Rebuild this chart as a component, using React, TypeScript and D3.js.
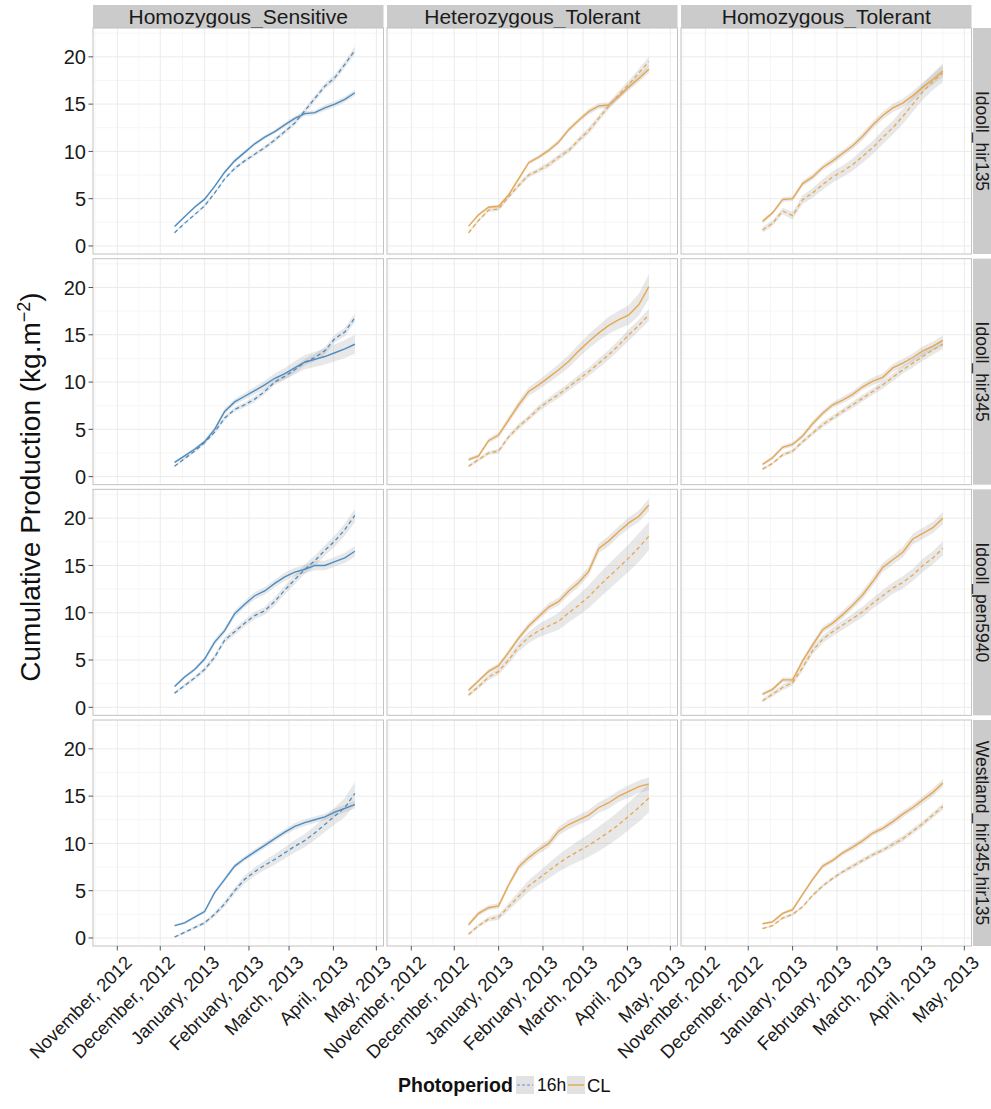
import * as d3 from 'd3';

const WIDTH = 991;
const HEIGHT = 1109;

// harvest dates (weekly) shared by every panel
const harvestDates = [
  '2012-12-11', '2012-12-18', '2012-12-25', '2013-01-01', '2013-01-08', '2013-01-15',
  '2013-01-22', '2013-01-29', '2013-02-05', '2013-02-12', '2013-02-19', '2013-02-26',
  '2013-03-05', '2013-03-12', '2013-03-19', '2013-03-26', '2013-04-02', '2013-04-09', '2013-04-16',
];

const genotypes = ['Homozygous_Sensitive', 'Heterozygous_Tolerant', 'Homozygous_Tolerant'];
const lines = ['Idooll_hir135', 'Idooll_hir345', 'Idooll_pen5940', 'Westland_hir345,hir135'];
const monthTicks = ['2012-11-01', '2012-12-01', '2013-01-01', '2013-02-01', '2013-03-01', '2013-04-01', '2013-05-01'];
const yTicks = [0, 5, 10, 15, 20];
const yMinor = [2.5, 7.5, 12.5, 17.5, 22.5];

// Idooll_hir135
const hir135_HS_CL = [2.05, 3.1, 4.1, 4.95, 6.3, 7.8, 9.0, 9.9, 10.8, 11.5, 12.1, 12.8, 13.5, 14.0, 14.1, 14.6, 15.0, 15.5, 16.2];
const hir135_HS_16h = [1.4, 2.4, 3.3, 4.25, 5.6, 7.1, 8.2, 9.0, 9.7, 10.4, 11.2, 12.1, 13.0, 14.3, 15.6, 16.9, 17.8, 19.2, 20.7];
const hir135_HT_CL = [2.1, 3.3, 4.1, 4.2, 5.4, 7.1, 8.8, 9.4, 10.1, 11.0, 12.3, 13.3, 14.2, 14.8, 14.9, 15.8, 16.8, 17.7, 18.7];
const hir135_HT_16h = [1.4, 2.7, 3.8, 3.9, 5.2, 6.4, 7.5, 8.0, 8.6, 9.4, 10.1, 11.2, 12.2, 13.5, 14.8, 16.0, 17.1, 18.3, 19.5];
const hir135_HoT_CL = [2.6, 3.5, 4.9, 5.0, 6.6, 7.3, 8.3, 9.0, 9.8, 10.6, 11.6, 12.8, 13.8, 14.6, 15.1, 15.9, 16.8, 17.6, 18.5];
const hir135_HoT_16h = [1.7, 2.4, 3.7, 3.2, 4.9, 5.6, 6.5, 7.3, 7.9, 8.6, 9.5, 10.4, 11.5, 12.5, 13.7, 15.0, 16.3, 17.4, 18.3];
// Idooll_hir345
const hir345_HS_CL = [1.5, 2.2, 2.9, 3.7, 5.0, 6.9, 7.9, 8.5, 9.1, 9.7, 10.4, 10.9, 11.5, 12.1, 12.4, 12.7, 13.1, 13.5, 14.0];
const hir345_HS_16h = [1.1, 1.9, 2.7, 3.6, 4.7, 6.2, 7.1, 7.6, 8.2, 9.0, 10.0, 10.6, 11.3, 12.1, 12.6, 13.3, 14.6, 15.3, 16.8];
const hir345_HT_CL = [1.8, 2.2, 3.8, 4.4, 6.0, 7.6, 9.0, 9.7, 10.5, 11.3, 12.2, 13.3, 14.3, 15.2, 16.0, 16.6, 17.1, 18.2, 20.1];
const hir345_HT_16h = [1.1, 1.8, 2.5, 2.7, 4.2, 5.3, 6.2, 7.2, 8.0, 8.7, 9.5, 10.3, 11.1, 12.0, 12.9, 13.9, 15.0, 16.0, 17.1];
const hir345_HoT_CL = [1.3, 2.0, 3.1, 3.4, 4.3, 5.6, 6.7, 7.6, 8.1, 8.7, 9.5, 10.1, 10.5, 11.5, 12.0, 12.6, 13.3, 13.8, 14.4];
const hir345_HoT_16h = [0.8, 1.4, 2.3, 2.7, 3.7, 4.6, 5.5, 6.2, 6.9, 7.6, 8.3, 9.0, 9.7, 10.5, 11.3, 12.0, 12.7, 13.4, 14.0];
// Idooll_pen5940
const pen_HS_CL = [2.2, 3.2, 4.0, 5.1, 6.9, 8.1, 9.9, 10.9, 11.8, 12.3, 13.1, 13.8, 14.3, 14.6, 15.0, 15.0, 15.4, 15.8, 16.5];
const pen_HS_16h = [1.5, 2.3, 3.1, 4.0, 5.3, 7.1, 8.0, 8.9, 9.7, 10.2, 11.2, 12.4, 13.5, 14.6, 15.5, 16.6, 17.6, 18.8, 20.3];
const pen_HT_CL = [1.8, 2.8, 3.8, 4.4, 5.8, 7.3, 8.6, 9.6, 10.6, 11.2, 12.3, 13.2, 14.4, 16.8, 17.6, 18.6, 19.5, 20.2, 21.4];
const pen_HT_16h = [1.3, 2.2, 3.2, 3.8, 5.0, 6.4, 7.4, 8.1, 8.6, 9.1, 10.0, 10.8, 11.7, 12.8, 13.8, 14.8, 15.8, 16.9, 18.1];
const pen_HoT_CL = [1.4, 1.9, 2.9, 2.9, 4.9, 6.6, 8.2, 8.9, 9.8, 10.8, 11.9, 13.3, 14.8, 15.6, 16.4, 17.8, 18.4, 19.0, 20.0];
const pen_HoT_16h = [0.7, 1.4, 2.1, 2.6, 4.2, 6.0, 7.2, 8.0, 8.7, 9.4, 10.1, 11.0, 11.8, 12.6, 13.2, 14.0, 15.0, 15.8, 16.8];
// Westland_hir345,hir135
const west_HS_CL = [1.3, 1.6, 2.2, 2.8, 4.8, 6.2, 7.6, 8.4, 9.1, 9.8, 10.5, 11.2, 11.8, 12.2, 12.5, 12.8, 13.3, 13.7, 14.1];
const west_HS_16h = [0.1, 0.6, 1.1, 1.6, 2.5, 3.6, 5.0, 6.2, 7.0, 7.7, 8.3, 9.0, 9.7, 10.3, 11.1, 12.0, 12.9, 13.8, 15.3];
const west_HT_CL = [1.4, 2.6, 3.2, 3.4, 5.6, 7.5, 8.5, 9.3, 10.0, 11.3, 12.0, 12.5, 13.0, 13.8, 14.3, 15.0, 15.5, 16.0, 16.3];
const west_HT_16h = [0.4, 1.3, 2.0, 2.2, 3.3, 4.4, 5.5, 6.3, 7.1, 7.9, 8.6, 9.2, 9.8, 10.5, 11.2, 12.0, 12.9, 13.8, 14.8];
const west_HoT_CL = [1.5, 1.7, 2.6, 3.0, 4.6, 6.2, 7.6, 8.2, 9.0, 9.6, 10.3, 11.1, 11.6, 12.3, 13.1, 13.8, 14.6, 15.4, 16.4];
const west_HoT_16h = [1.0, 1.3, 2.1, 2.5, 3.3, 4.5, 5.5, 6.3, 7.0, 7.6, 8.2, 8.8, 9.3, 9.9, 10.5, 11.3, 12.1, 13.0, 13.9];

// standard errors (ribbon half widths)
const hir135_HS_CL_se = [0.1, 0.1, 0.15, 0.15, 0.15, 0.2, 0.2, 0.2, 0.2, 0.2, 0.2, 0.25, 0.25, 0.25, 0.25, 0.3, 0.3, 0.3, 0.3];
const hir135_HS_16h_se = [0.1, 0.1, 0.1, 0.15, 0.15, 0.15, 0.2, 0.2, 0.2, 0.2, 0.25, 0.25, 0.25, 0.3, 0.3, 0.3, 0.35, 0.35, 0.4];
const hir135_HT_CL_se = [0.1, 0.15, 0.15, 0.15, 0.2, 0.2, 0.2, 0.2, 0.25, 0.25, 0.25, 0.25, 0.3, 0.3, 0.3, 0.3, 0.35, 0.35, 0.4];
const hir135_HT_16h_se = [0.15, 0.15, 0.2, 0.2, 0.2, 0.25, 0.25, 0.25, 0.3, 0.3, 0.3, 0.3, 0.35, 0.35, 0.35, 0.4, 0.4, 0.45, 0.5];
const hir135_HoT_CL_se = [0.2, 0.2, 0.25, 0.25, 0.3, 0.3, 0.3, 0.35, 0.35, 0.35, 0.4, 0.4, 0.4, 0.45, 0.45, 0.5, 0.5, 0.55, 0.6];
const hir135_HoT_16h_se = [0.3, 0.3, 0.35, 0.4, 0.45, 0.5, 0.55, 0.6, 0.6, 0.65, 0.7, 0.7, 0.75, 0.75, 0.8, 0.8, 0.85, 0.9, 1.0];
const hir345_HS_CL_se = [0.15, 0.15, 0.2, 0.2, 0.25, 0.3, 0.3, 0.35, 0.4, 0.45, 0.5, 0.6, 0.7, 0.75, 0.8, 0.85, 0.9, 0.95, 1.0];
const hir345_HS_16h_se = [0.1, 0.15, 0.15, 0.2, 0.2, 0.25, 0.25, 0.25, 0.3, 0.3, 0.3, 0.35, 0.35, 0.35, 0.4, 0.4, 0.4, 0.45, 0.45];
const hir345_HT_CL_se = [0.2, 0.2, 0.25, 0.3, 0.35, 0.4, 0.45, 0.5, 0.55, 0.6, 0.65, 0.7, 0.75, 0.8, 0.9, 0.95, 1.05, 1.15, 1.3];
const hir345_HT_16h_se = [0.15, 0.2, 0.2, 0.25, 0.25, 0.3, 0.3, 0.35, 0.35, 0.4, 0.4, 0.45, 0.45, 0.5, 0.5, 0.55, 0.6, 0.6, 0.65];
const hir345_HoT_CL_se = [0.15, 0.2, 0.2, 0.25, 0.25, 0.3, 0.3, 0.3, 0.35, 0.35, 0.35, 0.4, 0.4, 0.4, 0.45, 0.45, 0.5, 0.5, 0.55];
const hir345_HoT_16h_se = [0.15, 0.15, 0.2, 0.2, 0.25, 0.25, 0.3, 0.3, 0.3, 0.35, 0.35, 0.35, 0.4, 0.4, 0.4, 0.45, 0.45, 0.5, 0.5];
const pen_HS_CL_se = [0.15, 0.2, 0.2, 0.25, 0.3, 0.3, 0.35, 0.35, 0.4, 0.4, 0.4, 0.45, 0.45, 0.45, 0.5, 0.5, 0.5, 0.55, 0.55];
const pen_HS_16h_se = [0.15, 0.2, 0.2, 0.25, 0.3, 0.3, 0.35, 0.35, 0.4, 0.4, 0.45, 0.45, 0.5, 0.5, 0.55, 0.55, 0.6, 0.65, 0.7];
const pen_HT_CL_se = [0.2, 0.2, 0.25, 0.25, 0.3, 0.3, 0.35, 0.35, 0.4, 0.4, 0.45, 0.45, 0.5, 0.5, 0.55, 0.55, 0.6, 0.6, 0.65];
const pen_HT_16h_se = [0.2, 0.25, 0.3, 0.35, 0.4, 0.5, 0.6, 0.7, 0.8, 0.9, 1.0, 1.1, 1.2, 1.3, 1.35, 1.4, 1.45, 1.5, 1.5];
const pen_HoT_CL_se = [0.2, 0.2, 0.25, 0.25, 0.3, 0.3, 0.35, 0.35, 0.4, 0.4, 0.45, 0.45, 0.5, 0.5, 0.55, 0.55, 0.6, 0.6, 0.65];
const pen_HoT_16h_se = [0.2, 0.25, 0.3, 0.3, 0.35, 0.4, 0.4, 0.45, 0.5, 0.5, 0.55, 0.55, 0.6, 0.6, 0.65, 0.65, 0.7, 0.7, 0.75];
const west_HS_CL_se = [0.1, 0.15, 0.15, 0.2, 0.2, 0.25, 0.25, 0.25, 0.3, 0.3, 0.3, 0.3, 0.35, 0.35, 0.35, 0.35, 0.4, 0.4, 0.4];
const west_HS_16h_se = [0.1, 0.15, 0.15, 0.2, 0.25, 0.3, 0.35, 0.4, 0.45, 0.5, 0.55, 0.6, 0.65, 0.7, 0.75, 0.8, 0.9, 1.0, 1.2];
const west_HT_CL_se = [0.2, 0.25, 0.25, 0.3, 0.3, 0.35, 0.4, 0.4, 0.45, 0.45, 0.5, 0.5, 0.55, 0.55, 0.6, 0.6, 0.65, 0.65, 0.7];
const west_HT_16h_se = [0.15, 0.2, 0.25, 0.3, 0.4, 0.5, 0.6, 0.7, 0.8, 0.9, 1.0, 1.1, 1.2, 1.3, 1.35, 1.4, 1.45, 1.5, 1.5];
const west_HoT_CL_se = [0.1, 0.15, 0.15, 0.2, 0.2, 0.2, 0.25, 0.25, 0.25, 0.3, 0.3, 0.3, 0.3, 0.35, 0.35, 0.35, 0.4, 0.4, 0.4];
const west_HoT_16h_se = [0.1, 0.1, 0.15, 0.15, 0.15, 0.2, 0.2, 0.2, 0.2, 0.25, 0.25, 0.25, 0.25, 0.3, 0.3, 0.3, 0.3, 0.3, 0.35];

// rows = lines, cols = genotypes
const panelSeries = [
  [[hir135_HS_CL, hir135_HS_CL_se, hir135_HS_16h, hir135_HS_16h_se],
   [hir135_HT_CL, hir135_HT_CL_se, hir135_HT_16h, hir135_HT_16h_se],
   [hir135_HoT_CL, hir135_HoT_CL_se, hir135_HoT_16h, hir135_HoT_16h_se]],
  [[hir345_HS_CL, hir345_HS_CL_se, hir345_HS_16h, hir345_HS_16h_se],
   [hir345_HT_CL, hir345_HT_CL_se, hir345_HT_16h, hir345_HT_16h_se],
   [hir345_HoT_CL, hir345_HoT_CL_se, hir345_HoT_16h, hir345_HoT_16h_se]],
  [[pen_HS_CL, pen_HS_CL_se, pen_HS_16h, pen_HS_16h_se],
   [pen_HT_CL, pen_HT_CL_se, pen_HT_16h, pen_HT_16h_se],
   [pen_HoT_CL, pen_HoT_CL_se, pen_HoT_16h, pen_HoT_16h_se]],
  [[west_HS_CL, west_HS_CL_se, west_HS_16h, west_HS_16h_se],
   [west_HT_CL, west_HT_CL_se, west_HT_16h, west_HT_16h_se],
   [west_HoT_CL, west_HoT_CL_se, west_HoT_16h, west_HoT_16h_se]],
];

const genotypeColor = ['#4a8dc5', '#e8a74e', '#e8a74e'];

const FONT = '"Liberation Sans", Arial, Helvetica, sans-serif';
const PANEL_LEFT = 93;
const PANEL_W = 290.5;
const COL_STEP = 294;
const PANEL_TOP = 28;
const PANEL_H = 226;
const ROW_STEP = 230.67;
const STRIP_H = 23;

const parse = d3.timeParse('%Y-%m-%d');
const fmt = d3.timeFormat('%B, %Y');

export default function App() {
  const dates = harvestDates.map(d => parse(d) as Date);
  const ticks = monthTicks.map(d => parse(d) as Date);
  const x = d3.scaleTime()
    .domain([parse('2012-10-15') as Date, parse('2013-05-06') as Date])
    .range([0, PANEL_W]);
  const y = d3.scaleLinear().domain([-0.85, 23.05]).range([PANEL_H, 0]);

  // minor breaks halfway between month ticks
  const allMonths = [parse('2012-10-01') as Date, ...ticks];
  const xMinor = d3.pairs(allMonths)
    .map(([a, b]) => new Date((a.getTime() + b.getTime()) / 2))
    .filter(d => x(d) > 0 && x(d) < PANEL_W);

  const line = d3.line<number>().x((_, i) => x(dates[i])).y(v => y(v));
  const area = (vals: number[], se: number[]) =>
    d3.area<number>()
      .x((_, i) => x(dates[i]))
      .y0((v, i) => y(v - se[i]))
      .y1((v, i) => y(v + se[i]))(vals) as string;

  const bottom = PANEL_TOP + 3 * ROW_STEP + PANEL_H;
  const stripX = PANEL_LEFT + 2 * COL_STEP + PANEL_W + 1.5;

  return (
    <div style={{ position: 'absolute', left: 0, top: 0 }}>
      <svg width={WIDTH} height={HEIGHT} style={{ display: 'block', background: '#fff', fontFamily: FONT }}>
        {/* top strips */}
        {genotypes.map((g, c) => (
          <g key={g} transform={`translate(${PANEL_LEFT + c * COL_STEP},${PANEL_TOP - STRIP_H})`}>
            <rect width={PANEL_W} height={STRIP_H} fill="#cbcbcb" />
            <text x={PANEL_W / 2} y={STRIP_H / 2} dy="0.36em" textAnchor="middle" fontSize={21} fill="#1a1a1a">{g}</text>
          </g>
        ))}
        {/* panels */}
        {panelSeries.map((row, r) => row.map((cell, c) => {
          const [cl, clSe, h16, h16Se] = cell;
          const col = genotypeColor[c];
          return (
            <g key={`${r}-${c}`} transform={`translate(${PANEL_LEFT + c * COL_STEP},${PANEL_TOP + r * ROW_STEP})`}>
              <rect width={PANEL_W} height={PANEL_H} fill="#fff" />
              {xMinor.map((d, i) => (
                <line key={`xm${i}`} x1={x(d)} x2={x(d)} y1={0} y2={PANEL_H} stroke="#f4f4f4" strokeWidth={0.8} />
              ))}
              {yMinor.map(v => (
                <line key={`ym${v}`} x1={0} x2={PANEL_W} y1={y(v)} y2={y(v)} stroke="#f4f4f4" strokeWidth={0.8} />
              ))}
              {ticks.map((d, i) => (
                <line key={`xg${i}`} x1={x(d)} x2={x(d)} y1={0} y2={PANEL_H} stroke="#ebebeb" strokeWidth={1} />
              ))}
              {yTicks.map(v => (
                <line key={`yg${v}`} x1={0} x2={PANEL_W} y1={y(v)} y2={y(v)} stroke="#ebebeb" strokeWidth={1} />
              ))}
              <path d={area(cl, clSe)} fill="#a0a0a0" fillOpacity={0.24} />
              <path d={area(h16, h16Se)} fill="#a0a0a0" fillOpacity={0.24} />
              <path d={line(h16) as string} fill="none" stroke={col} strokeWidth={1.3} strokeDasharray="4,3" />
              <path d={line(cl) as string} fill="none" stroke={col} strokeWidth={1.4} />
              <rect width={PANEL_W} height={PANEL_H} fill="none" stroke="#c2c2c2" strokeWidth={1} />
            </g>
          );
        }))}
        {/* right strips (drawn after panels, text kept inside the page) */}
        {lines.map((l, r) => (
          <g key={l} transform={`translate(${stripX},${PANEL_TOP + r * ROW_STEP})`}>
            <rect width={WIDTH - stripX} height={PANEL_H} fill="#cbcbcb" />
            <text transform={`translate(${WIDTH - stripX - 15.5},${PANEL_H / 2}) rotate(90)`} textAnchor="middle" fontSize={17.5} fill="#1a1a1a">{l}</text>
          </g>
        ))}
        {/* y axis */}
        {lines.map((l, r) => (
          <g key={`ya${l}`} transform={`translate(${PANEL_LEFT},${PANEL_TOP + r * ROW_STEP})`}>
            {yTicks.map(v => (
              <g key={v} transform={`translate(0,${y(v)})`}>
                <line x1={-4.5} x2={0} stroke="#555" strokeWidth={1} />
                <text x={-7} dy="0.36em" textAnchor="end" fontSize={20} fill="#1a1a1a">{v}</text>
              </g>
            ))}
          </g>
        ))}
        {/* x axis */}
        {genotypes.map((g, c) => (
          <g key={`xa${g}`} transform={`translate(${PANEL_LEFT + c * COL_STEP},${bottom})`}>
            {ticks.map((d, i) => (
              <g key={i} transform={`translate(${x(d)},0)`}>
                <line y1={0} y2={4.5} stroke="#555" strokeWidth={1} />
                <text transform="translate(6,8) rotate(-45)" dy="0.75em" textAnchor="end" fontSize={18.5} fill="#1a1a1a">{fmt(d)}</text>
              </g>
            ))}
          </g>
        ))}
        {/* y title */}
        <text transform={`translate(40,${(PANEL_TOP + bottom) / 2}) rotate(-90)`} textAnchor="middle" fontSize={28} fill="#111">
          Cumulative Production (kg.m<tspan dy={-10} fontSize={18}>−2</tspan><tspan dy={10}>)</tspan>
        </text>
        {/* legend */}
        <g transform="translate(398,1085)">
          <text x={0} dy="0.36em" fontSize={19.5} fontWeight="bold" fill="#111">Photoperiod</text>
          <g transform="translate(118,-9)">
            <rect width={18} height={18} fill="#e2e2e2" />
            <line x1={1} x2={17} y1={9} y2={9} stroke="#9ba3dd" strokeWidth={1.3} strokeDasharray="3,2" />
          </g>
          <text x={139} dy="0.36em" fontSize={17.5} fill="#111">16h</text>
          <g transform="translate(169,-9)">
            <rect width={18} height={18} fill="#e2e2e2" />
            <line x1={1} x2={17} y1={9} y2={9} stroke="#e8a74e" strokeWidth={1.4} />
          </g>
          <text x={189} dy="0.36em" fontSize={18.5} fill="#111">CL</text>
        </g>
      </svg>
    </div>
  );
}
